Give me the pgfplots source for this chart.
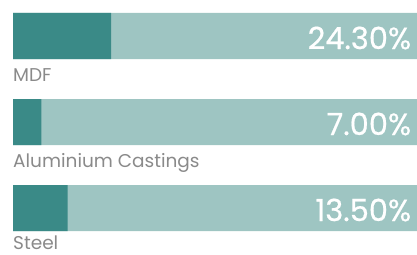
\documentclass[border=0pt]{standalone}
\usepackage{pgfplots}
\pgfplotsset{compat=1.18}
\usepackage{fontspec}
\setmainfont{Poppins}
\newfontfamily\pctfont{Poppins}[FakeBold=0.6]
\definecolor{darkteal}{HTML}{3A8A87}
\definecolor{lightteal}{HTML}{9EC5C2}
\definecolor{labelgray}{HTML}{8A8A8A}
\begin{document}
\begin{tikzpicture}
\begin{axis}[
  scale only axis, width=417pt, height=254pt,
  hide axis, clip=false,
  xmin=-3.2178, xmax=100,
  ymin=0, ymax=254, y dir=reverse,
  xbar, bar width=46, bar shift=0pt,
]
\addplot[draw=none, fill=lightteal] coordinates {(100,36) (100,122) (100,208)};
\addplot[draw=none, fill=darkteal] coordinates {(24.3,36) (7.0,122) (13.5,208)};
\path (rel axis cs:0,0) rectangle (rel axis cs:1,1);
\node[anchor=east, text=white, font=\pctfont\fontsize{30.5}{30.5}\selectfont, inner sep=0pt] at (axis cs:98.6,38) {24.30\%};
\node[anchor=east, text=white, font=\pctfont\fontsize{30.5}{30.5}\selectfont, inner sep=0pt] at (axis cs:98.6,124) {7.00\%};
\node[anchor=east, text=white, font=\pctfont\fontsize{30.5}{30.5}\selectfont, inner sep=0pt] at (axis cs:98.6,210) {13.50\%};
\node[anchor=base west, text=labelgray, font=\fontsize{18.5}{19}\selectfont, inner sep=0pt] at (axis cs:0,81) {MDF};
\node[anchor=base west, text=labelgray, font=\fontsize{18.5}{19}\selectfont, inner sep=0pt] at (axis cs:0,167) {Aluminium Castings};
\node[anchor=base west, text=labelgray, font=\fontsize{18.5}{19}\selectfont, inner sep=0pt] at (axis cs:0,249) {Steel};
\end{axis}
\end{tikzpicture}
\end{document}
